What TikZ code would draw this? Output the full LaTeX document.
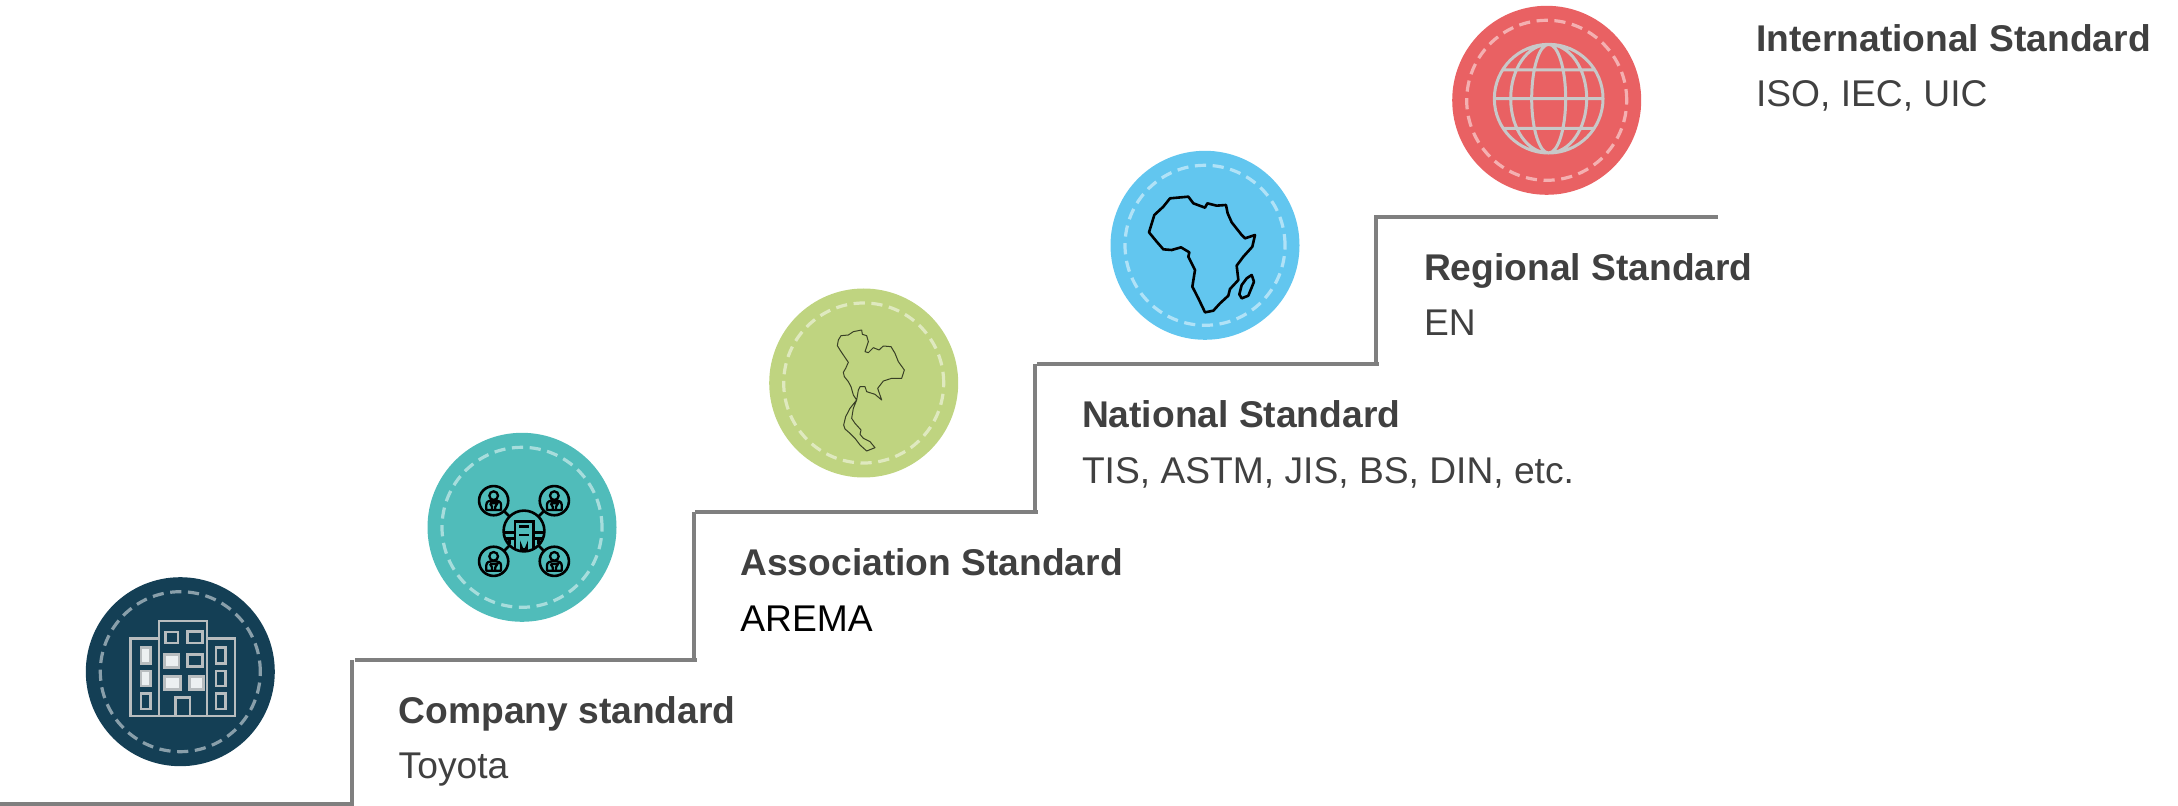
\documentclass[tikz,border=0pt]{standalone}
\usepackage{fontspec}
\setmainfont{Liberation Sans}
\definecolor{txtgray}{HTML}{404040}
\definecolor{stairgray}{HTML}{7F7F7F}
\definecolor{cdark}{HTML}{143F55}
\definecolor{cteal}{HTML}{50BCBA}
\definecolor{cgreen}{HTML}{BFD480}
\definecolor{cblue}{HTML}{62C6EF}
\definecolor{cred}{HTML}{E96163}
\definecolor{iconlight}{HTML}{B8BDBF}
\definecolor{globegray}{HTML}{C8C8C8}
\tikzset{
  disc/.style={circle,draw=none,minimum size=94.5pt,inner sep=0pt,outer sep=0pt},
  ring/.style={circle,draw=white,draw opacity=0.5,line width=1.6pt,minimum size=80pt,inner sep=0pt,outer sep=0pt,dash pattern=on 5.6pt off 3.3pt,fill=none},
  stair/.style={draw=stairgray,line width=2pt},
  head/.style={anchor=base west,inner sep=0pt,outer sep=0pt,font=\fontsize{18.6pt}{20pt}\selectfont\bfseries,text=txtgray},
  sub/.style={anchor=base west,inner sep=0pt,outer sep=0pt,font=\fontsize{18.6pt}{20pt}\selectfont,text=txtgray},
  hole/.style={draw=iconlight,line width=1.2pt,fill=none},
  pane/.style={draw=iconlight,line width=1.2pt,fill=white!92!cdark},
  blk/.style={draw=black,line width=1.3pt},
  pcircle/.style={circle,draw=black,line width=1.3pt,minimum size=14.6pt,inner sep=0pt,outer sep=0pt},
  hubc/.style={circle,draw=black,line width=1.3pt,minimum size=20.4pt,inner sep=0pt,outer sep=0pt},
}
\newcommand{\personicon}[2]{%
  \draw[blk,line width=1.15pt] (#1,#2-15) circle[radius=13];
  \draw[blk,line width=1.15pt,line join=round] (#1-22,#2+28) -- (#1-22,#2+12) .. controls (#1-22,#2+2) and (#1-12,#2) .. (#1-7,#2) -- (#1+7,#2) .. controls (#1+12,#2) and (#1+22,#2+2) .. (#1+22,#2+12) -- (#1+22,#2+28) -- cycle;
  \draw[blk,line width=1.15pt] (#1-11,#2+8) -- (#1+11,#2+8) -- (#1+5,#2+18) -- (#1+5,#2+28) (#1-5,#2+28) -- (#1-5,#2+18) -- (#1-11,#2+8);
}
\begin{document}
\begin{tikzpicture}[x=0.5pt,y=-0.5pt]
\useasboundingbox (0,0) rectangle (2178,806);

% stairs
\path[stair] (0,804) -- (354,804);
\path[stair] (352,804) -- (352,660);
\path[stair] (355,659.5) -- (697,659.5);
\path[stair] (693.5,659.5) -- (693.5,512);
\path[stair] (695,512) -- (1038,512);
\path[stair] (1035,512) -- (1035,364);
\path[stair] (1037,364) -- (1379,364);
\path[stair] (1376,364) -- (1376,217);
\path[stair,line cap=rect] (1376,217.3) -- (1716,217.3);

% discs
\node[disc,fill=cdark]  (d1) at (180.3,671.7) {};
\node[ring]             (r1) at (180.3,671.7) {};
\node[disc,fill=cteal]  (d2) at (522,527.3) {};
\node[ring]             (r2) at (522,527.3) {};
\node[disc,fill=cgreen] (d3) at (863.7,383) {};
\node[ring]             (r3) at (863.7,383) {};
\node[disc,fill=cblue]  (d4) at (1205,245.3) {};
\node[ring]             (r4) at (1205,245.3) {};
\node[disc,fill=cred]   (d5) at (1546.7,100.3) {};
\node[ring]             (r5) at (1546.7,100.3) {};

% building
\begin{scope}[shift={(60,560)},x=0.16667pt,y=-0.16667pt]
  \draw[hole] (212,236) rectangle (297,468);
  \draw[hole] (297,183) rectangle (441,468);
  \draw[hole] (441,236) rectangle (525,468);
  \draw[hole] (347,468) -- (347,413) -- (390,413) -- (390,468);
  \draw[pane] (243,263) rectangle (271,310);
  \draw[pane] (243,333) rectangle (271,378);
  \draw[hole] (243,400) rectangle (271,447);
  \draw[hole] (317,216) rectangle (354,249);
  \draw[hole] (383,214) rectangle (428,249);
  \draw[pane] (314,284) rectangle (357,322);
  \draw[hole] (383,284) rectangle (428,320);
  \draw[pane] (314,350) rectangle (362,388);
  \draw[pane] (388,350) rectangle (430,388);
  \draw[hole] (468,263) rectangle (496,310);
  \draw[hole] (468,333) rectangle (496,378);
  \draw[hole] (468,400) rectangle (496,447);
\end{scope}

% network
\begin{scope}[shift={(470,475)},x=0.16667pt,y=-0.16667pt]
  \node[hubc] (hub) at (162,168) {};
  \node[pcircle] (p1) at (71,77) {};
  \node[pcircle] (p2) at (253,77) {};
  \node[pcircle] (p3) at (71,259) {};
  \node[pcircle] (p4) at (253,259) {};
  \draw[blk] (p1) -- (hub);
  \draw[blk] (p2) -- (hub);
  \draw[blk] (p3) -- (hub);
  \draw[blk] (p4) -- (hub);
  \personicon{71}{77}
  \personicon{253}{77}
  \personicon{71}{259}
  \personicon{253}{259}
  \draw[blk] (135,225) -- (135,140) -- (190,140) -- (190,225);
  \draw[blk] (148,155) -- (177,155) (148,180) -- (177,180);
  \draw[blk] (104,172) -- (135,172) (108,190) -- (135,190) (190,172) -- (220,172) (190,190) -- (216,190);
  \draw[blk] (118,190) -- (118,208) (206,190) -- (206,208);
  \draw[blk] (154,226) -- (154,216) arc[start angle=180,end angle=0,radius=8] -- (170,226);
\end{scope}

% Thailand
\begin{scope}[shift={(755,275)},x=0.16667pt,y=-0.16667pt]
  \draw[draw=black!70!cgreen,line width=0.5pt,line join=round]
   (320,165) -- (295,170) -- (280,180) -- (258,182) -- (250,195) -- (247,212) -- (255,225) -- (265,240) -- (280,262) -- (272,280) -- (265,292) -- (268,305) -- (280,320) -- (288,335) -- (295,360) -- (305,375)
   -- (285,400) -- (272,425) -- (266,450) -- (270,462) -- (285,475) -- (300,490) -- (315,510) -- (335,528) -- (360,518) -- (345,500) -- (325,490) -- (315,478) -- (318,465) -- (300,445) -- (290,430) -- (295,400) -- (305,375) -- (310,345) -- (315,335) -- (330,335) -- (335,350) -- (360,358) -- (380,375) -- (368,340) -- (385,318) -- (410,310) -- (440,310) -- (448,285) -- (430,260) -- (420,235) -- (408,215) -- (385,213) -- (372,225) -- (355,218) -- (340,233) -- (330,230) -- (340,200) -- (335,182) -- (322,178) -- cycle;
\end{scope}

% Africa
\begin{scope}[shift={(1095,135)},x=0.16667pt,y=-0.16667pt]
  \draw[blk,line join=round]
   (225,190) -- (280,185) -- (295,205) -- (330,218) -- (337,205) -- (365,212) -- (393,210) -- (398,235) -- (410,262) -- (440,300) -- (450,310) -- (480,300) -- (472,335) -- (445,365) -- (425,392) -- (430,435) -- (405,462) -- (400,482) -- (375,505) -- (355,527) -- (330,532) -- (310,490) -- (292,455) -- (300,405) -- (280,365) -- (283,352) -- (258,337) -- (230,345) -- (205,343) -- (185,320) -- (162,292) -- (178,240) -- (205,215) -- cycle;
  \draw[blk,line join=round]
   (470,420) -- (477,440) -- (460,482) -- (440,490) -- (433,478) -- (440,450) -- (455,430) -- cycle;
\end{scope}

% globe
\begin{scope}[shift={(1440,0)},x=0.16667pt,y=-0.16667pt]
  \draw[draw=globegray,line width=1.5pt]
    (326,296) circle[radius=163]
    (326,296) ellipse[x radius=51,y radius=163]
    (326,296) ellipse[x radius=114,y radius=163]
    (163,296) -- (489,296)
    (190,210) -- (462,210)
    (190,385) -- (462,385);
\end{scope}

% labels
\node[head] (t1) at (398.7,723.3) {Company standard};
\node[sub]  (s1) at (398.7,778.3) {Toyota};
\node[head] (t2) at (740.4,575.5) {Association Standard};
\node[sub,text=black]  (s2) at (740.4,631.5) {AREMA};
\node[head] (t3) at (1082,427.7) {National Standard};
\node[sub]  (s3) at (1082,483.5) {TIS, ASTM, JIS, BS, DIN, etc.};
\node[head] (t4) at (1424,280.6) {Regional Standard};
\node[sub]  (s4) at (1424,336) {EN};
\node[head] (t5) at (1756,51.6) {International Standard};
\node[sub]  (s5) at (1756,106.8) {ISO, IEC, UIC};
\end{tikzpicture}
\end{document}
